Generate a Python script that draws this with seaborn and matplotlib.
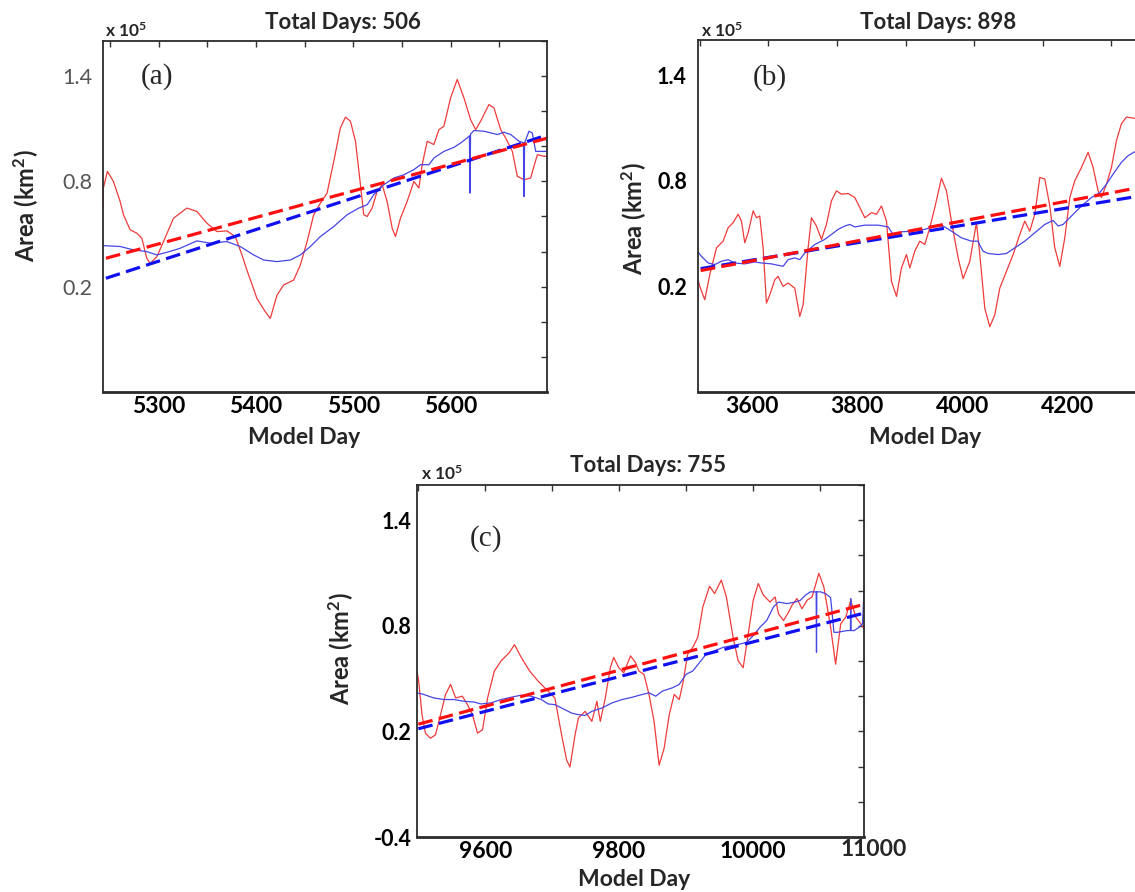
import numpy as np
import pandas as pd
import matplotlib
matplotlib.use("Agg")
import matplotlib.pyplot as plt
import seaborn as sns
from matplotlib.ticker import FixedLocator, FixedFormatter
from matplotlib.font_manager import FontProperties

sns.set_style("white")
plt.rcParams["font.family"] = ["Lato", "DejaVu Sans"]
plt.rcParams["mathtext.fontset"] = "custom"
plt.rcParams["mathtext.rm"] = "Lato:bold"
plt.rcParams["mathtext.it"] = "Lato:bold"
plt.rcParams["mathtext.bf"] = "Lato:bold"

# ---------------- data ----------------
titles = ["Total Days: 506", "Total Days: 898", "Total Days: 755"]
panel_tags = ["(a)", "(b)", "(c)"]

# panel (a)
a_red_day = [5243, 5243.4, 5247.5, 5253.7, 5260.6, 5264, 5270.9, 5277.7, 5282.9, 5288, 5291.4, 5298.3,
             5305.1, 5315.4, 5329.1, 5339.4, 5349.7, 5360, 5370.3, 5378.8, 5385.7, 5390.8, 5401.1,
             5409.7, 5414.8, 5421.7, 5428.6, 5438.8, 5445.7, 5452.6, 5459.4, 5466.3, 5473.1, 5480,
             5486.8, 5492, 5497.1, 5502.3, 5507.4, 5510.8, 5514.3, 5519.4, 5524.5, 5529.7, 5534.8,
             5540, 5543.4, 5548.5, 5555.4, 5562.3, 5567.4, 5570.8, 5576, 5582.8, 5588, 5593.1, 5600,
             5606.8, 5613.7, 5620.5, 5625.7, 5630.8, 5639.4, 5644.5, 5651.4, 5656.5, 5663.4, 5668.5,
             5675.4, 5682.2, 5685.6, 5689.1, 5695.9, 5699.4]
a_red_val = [0.648, 0.762, 0.857, 0.80, 0.686, 0.61, 0.524, 0.505, 0.476, 0.362, 0.333, 0.371,
             0.457, 0.59, 0.648, 0.629, 0.562, 0.514, 0.518, 0.486, 0.381, 0.295, 0.133,
             0.057, 0.019, 0.152, 0.21, 0.238, 0.324, 0.457, 0.61, 0.676, 0.733, 0.914,
             1.105, 1.166, 1.143, 1.029, 0.781, 0.61, 0.60, 0.648, 0.743, 0.781, 0.686,
             0.533, 0.486, 0.59, 0.686, 0.80, 0.762, 0.895, 1.029, 1.01, 1.095, 1.114, 1.276,
             1.381, 1.276, 1.152, 1.095, 1.143, 1.238, 1.219, 1.095, 1.048, 0.971, 0.829,
             0.81, 0.819, 0.886, 0.952, 0.943, 0.943]
a_blue_day = [5243, 5260.6, 5274.3, 5288, 5298.3, 5308.6, 5322.3, 5339.4, 5353.1, 5370.3, 5384,
              5397.7, 5408, 5421.7, 5435.4, 5445.7, 5456, 5466.3, 5480, 5493.7, 5505.7, 5514.3,
              5521.1, 5531.4, 5541.7, 5552, 5562.3, 5569.1, 5577.7, 5582.8, 5593.1, 5603.4,
              5610.3, 5617.1, 5619.3, 5619.9, 5620.5, 5624, 5634.2, 5648, 5654.8, 5661.7, 5670.2,
              5674.8, 5675.4, 5676.0, 5680.5, 5683.9, 5687.4, 5699.4]
a_blue_val = [0.434, 0.429, 0.41, 0.40, 0.381, 0.396, 0.419, 0.461, 0.448, 0.457, 0.429,
              0.381, 0.352, 0.343, 0.352, 0.381, 0.429, 0.486, 0.543, 0.61, 0.648, 0.667,
              0.724, 0.781, 0.819, 0.838, 0.867, 0.895, 0.895, 0.933, 0.971, 0.994,
              1.019, 1.048, 1.06, 0.733, 1.07, 1.09, 1.086, 1.067, 1.08, 1.067, 1.029,
              1.02, 0.714, 1.02, 1.086, 1.076, 0.971, 0.971]
a_trend_day = [5246, 5699]
a_trend_red = [0.362, 1.046]
a_trend_blue = [0.248, 1.064]

# panel (b)
b_red_day = [3497, 3500.4, 3509.9, 3519.4, 3532.1, 3544.7, 3554.2, 3563.7, 3573.3, 3579.6, 3585.9,
             3592.3, 3601.8, 3608.1, 3614.4, 3620.8, 3627.1, 3633.5, 3643, 3649.3, 3658.8, 3668.3,
             3681, 3690.5, 3696.8, 3706.3, 3712.7, 3722.2, 3731.7, 3741.2, 3750.7, 3760.2, 3769.7,
             3782.4, 3795.1, 3804.6, 3814.1, 3826.8, 3836.3, 3845.8, 3855.3, 3864.8, 3874.3,
             3883.8, 3893.3, 3899.6, 3909.1, 3918.6, 3928.1, 3937.7, 3947.2, 3959.8, 3969.3,
             3978.8, 3991.5, 4001, 4013.7, 4026.4, 4032.7, 4042.2, 4051.7, 4061.2, 4070.7, 4083.4,
             4096.1, 4108.7, 4118.2, 4127.7, 4137.3, 4146.8, 4156.3, 4165.8, 4175.3, 4184.8,
             4194.3, 4203.8, 4213.3, 4226, 4238.6, 4248.1, 4257.6, 4264, 4273.5, 4283, 4292.5,
             4302, 4311.5, 4327.3]
b_red_val = [0.238, 0.20, 0.124, 0.267, 0.419, 0.457, 0.533, 0.562, 0.61, 0.571, 0.448,
             0.505, 0.629, 0.59, 0.60, 0.419, 0.105, 0.152, 0.238, 0.257, 0.20, 0.219,
             0.19, 0.029, 0.095, 0.419, 0.59, 0.543, 0.467, 0.552, 0.686, 0.743, 0.724,
             0.728, 0.705, 0.648, 0.59, 0.619, 0.61, 0.657, 0.571, 0.229, 0.143,
             0.305, 0.381, 0.305, 0.40, 0.457, 0.438, 0.533, 0.648, 0.815, 0.743,
             0.571, 0.362, 0.244, 0.343, 0.562, 0.381, 0.076, -0.029, 0.038, 0.19, 0.286,
             0.381, 0.495, 0.571, 0.514, 0.61, 0.819, 0.81, 0.657, 0.419, 0.314,
             0.476, 0.705, 0.80, 0.876, 0.962, 0.876, 0.743, 0.705, 0.781, 0.876, 1.029,
             1.124, 1.162, 1.155]
b_blue_day = [3497, 3503.5, 3516.2, 3528.9, 3541.6, 3554.2, 3566.9, 3585.9, 3604.9, 3617.6, 3636.7,
              3658.8, 3668.3, 3681, 3690.5, 3700, 3719, 3738, 3750.7, 3763.4, 3776.1, 3785.6,
              3795.1, 3814.1, 3839.5, 3858.5, 3868, 3883.8, 3902.8, 3928.1, 3947.2, 3963,
              3978.8, 3997.8, 4016.9, 4029.5, 4032.7, 4039.1, 4048.6, 4067.6, 4083.4, 4099.2,
              4118.2, 4137.3, 4156.3, 4172.1, 4181.6, 4191.1, 4207, 4226, 4245, 4260.8,
              4273.5, 4286.2, 4302, 4314.7, 4327.3]
b_blue_val = [0.396, 0.371, 0.333, 0.324, 0.343, 0.352, 0.333, 0.328, 0.339, 0.333, 0.328,
              0.314, 0.352, 0.362, 0.352, 0.39, 0.438, 0.467, 0.495, 0.524, 0.543, 0.552,
              0.538, 0.548, 0.548, 0.538, 0.495, 0.51, 0.514, 0.524, 0.543, 0.543,
              0.514, 0.476, 0.457, 0.457, 0.434, 0.40, 0.387, 0.381, 0.387, 0.419,
              0.457, 0.505, 0.552, 0.575, 0.543, 0.552, 0.60, 0.657, 0.705, 0.733,
              0.781, 0.838, 0.905, 0.943, 0.965]
b_trend_day = [3502, 4327]
b_trend_red = [0.29, 0.757]
b_trend_blue = [0.301, 0.709]

# panel (c)
c_red_day = [9498, 9500.5, 9505.5, 9510.6, 9518.1, 9525.6, 9533.2, 9540.7, 9548.2, 9555.8, 9565.8,
             9573.4, 9580.9, 9588.4, 9596, 9603.5, 9613.6, 9623.6, 9636.2, 9643.7, 9653.8, 9666.3,
             9678.9, 9691.5, 9704, 9714.1, 9721.6, 9726.6, 9734.2, 9739.2, 9749.2, 9759.3, 9766.8,
             9771.9, 9779.4, 9786.9, 9792, 9799.5, 9807, 9817.1, 9824.6, 9829.6, 9837.2, 9844.7,
             9852.3, 9859.8, 9867.3, 9874.9, 9882.4, 9889.9, 9895, 9902.5, 9910.1, 9917.6, 9925.1,
             9935.2, 9942.7, 9952.8, 9960.3, 9970.4, 9977.9, 9985.4, 9993, 10000.5, 10008,
             10015.6, 10025.6, 10033.2, 10038.2, 10045.7, 10053.3, 10058.3, 10065.8, 10073.4,
             10080.9, 10088.4, 10098.5, 10106, 10116.1, 10123.6, 10131.2, 10138.7, 10146.2,
             10153.8, 10161.3, 10166.3]
c_red_val = [0.543, 0.486, 0.295, 0.19, 0.161, 0.18, 0.295, 0.41, 0.467, 0.39, 0.40,
             0.352, 0.295, 0.19, 0.21, 0.39, 0.543, 0.60, 0.649, 0.693, 0.62, 0.543,
             0.486, 0.438, 0.39, 0.18, 0.037, -0.002, 0.18, 0.276, 0.314, 0.257, 0.371,
             0.257, 0.39, 0.562, 0.62, 0.562, 0.533, 0.629, 0.591, 0.543, 0.524, 0.41,
             0.257, 0.008, 0.104, 0.295, 0.41, 0.381, 0.467, 0.639, 0.677, 0.735, 0.907,
             1.025, 0.983, 1.06, 0.964, 0.735, 0.601, 0.562, 0.754, 0.945, 1.04,
             0.974, 0.935, 0.964, 0.868, 0.83, 0.878, 0.916, 0.955, 0.897,
             0.945, 0.964, 1.098, 1.021, 0.792, 0.582, 0.811, 0.849, 0.945,
             0.849, 0.811, 0.782]
c_blue_day = [9498, 9508, 9523.1, 9538.2, 9553.3, 9568.3, 9583.4, 9593.5, 9608.5, 9623.6, 9638.7,
              9653.8, 9668.8, 9683.9, 9694, 9704, 9714.1, 9729.1, 9739.2, 9749.2, 9759.3, 9774.4,
              9789.4, 9804.5, 9819.6, 9834.7, 9844.7, 9854.8, 9864.8, 9879.9, 9889.9, 9900,
              9910.1, 9920.1, 9930.2, 9942.7, 9955.3, 9967.8, 9980.4, 9990.5, 10000.5, 10010.6,
              10020.6, 10030.7, 10038.2, 10050.8, 10063.3, 10070.9, 10078.4, 10085.9, 10093.5,
              10094.5, 10095, 10095.5, 10101, 10108.5, 10116.1, 10121.1, 10126.1, 10141.2,
              10145.7, 10146.2, 10146.7, 10151.3, 10158.8, 10163.8, 10166.3]
c_blue_val = [0.419, 0.41, 0.39, 0.381, 0.381, 0.371, 0.367, 0.356, 0.362, 0.381, 0.394,
              0.406, 0.40, 0.381, 0.356, 0.352, 0.333, 0.304, 0.295, 0.291, 0.314, 0.333,
              0.362, 0.381, 0.394, 0.41, 0.419, 0.40, 0.429, 0.448, 0.467, 0.524,
              0.543, 0.591, 0.639, 0.658, 0.677, 0.687, 0.696, 0.706, 0.744, 0.792,
              0.83, 0.907, 0.935, 0.926, 0.935, 0.945, 0.974, 0.993, 0.993,
              0.993, 0.649, 0.993, 0.993, 0.983, 0.96, 0.763, 0.763, 0.773,
              0.773, 0.954, 0.773, 0.773, 0.792, 0.811, 1.021]
c_trend_day = [9500, 10166]
c_trend_red = [0.241, 0.922]
c_trend_blue = [0.215, 0.872]

# ---------------- figure ----------------
W, H = 1135, 892
fig = plt.figure(figsize=(W / 100, H / 100), dpi=100)
fig.patch.set_facecolor("white")


def add_axes_px(l, t, r, b):
    return fig.add_axes([l / W, 1 - b / H, (r - l) / W, (b - t) / H])


def fpos(x, y):
    return x / W, 1 - y / H


RED_THIN = "#ef3b3b"
BLUE_THIN = "#4646e6"
RED_DASH = "#ff1010"
BLUE_DASH = "#1010f0"
SPINE = "#2b2b2b"
BOLD = dict(family=["Lato", "DejaVu Sans"], weight="bold")


def draw_panel(ax, rd, rv, bd, bv, td, tr, tb):
    sns.lineplot(x=rd, y=rv, ax=ax, color=RED_THIN, linewidth=0.9, estimator=None, sort=False)
    sns.lineplot(x=bd, y=bv, ax=ax, color=BLUE_THIN, linewidth=0.9, estimator=None, sort=False)
    sns.lineplot(x=td, y=tb, ax=ax, color=BLUE_DASH, linewidth=2.3, estimator=None, sort=False,
                 linestyle=(0, (4.6, 2.0)))
    sns.lineplot(x=td, y=tr, ax=ax, color=RED_DASH, linewidth=2.3, estimator=None, sort=False,
                 linestyle=(0, (4.6, 2.0)))
    ax.set_ylim(-0.4, 1.6)
    ax.set_xlabel("")
    ax.set_ylabel("")
    for s in ax.spines.values():
        s.set_visible(True)
        s.set_color(SPINE)
        s.set_linewidth(1.3)
    ax.spines["bottom"].set_linewidth(2.0)
    ax.tick_params(which="both", direction="in", top=True, right=True, length=4.5,
                   width=1.0, color="#333333")
    ax.yaxis.set_minor_locator(FixedLocator(np.arange(-0.4, 1.61, 0.2)))


def style_ticks(ax, xmaj, xlabels, xminor, ymaj, ylabels, yfp, ycolor, ypad, xmaj_len=4.5):
    ax.xaxis.set_major_locator(FixedLocator(xmaj))
    ax.xaxis.set_major_formatter(FixedFormatter(xlabels))
    ax.xaxis.set_minor_locator(FixedLocator(xminor))
    ax.yaxis.set_major_locator(FixedLocator(ymaj))
    ax.yaxis.set_major_formatter(FixedFormatter(ylabels))
    ax.tick_params(axis="x", which="major", length=xmaj_len, pad=3.0)
    ax.tick_params(axis="y", which="major", pad=ypad)
    for lab in ax.get_xticklabels():
        lab.set_fontproperties(FontProperties(family=["Lato", "DejaVu Sans"], weight="bold", size=16.5))
        lab.set_color("black")
    for lab in ax.get_yticklabels():
        lab.set_fontproperties(yfp)
        lab.set_color(ycolor)


light_fp = FontProperties(family=["Lato", "DejaVu Sans"], weight="normal", size=15.5)
bold_fp = FontProperties(family=["Lato", "DejaVu Sans"], weight="bold", size=15.5)

# ---- panel (a)
ax_a = add_axes_px(103, 41, 547, 392)
draw_panel(ax_a, a_red_day, a_red_val, a_blue_day, a_blue_val, a_trend_day, a_trend_red, a_trend_blue)
ax_a.set_xlim(5243, 5699)
style_ticks(ax_a, [5300, 5400, 5500, 5600], ["5300", "5400", "5500", "5600"],
            np.arange(5250, 5700, 50), [0.2, 0.8, 1.4], ["0.2", "0.8", "1.4"],
            light_fp, "#555555", 7.5)

# ---- panel (b)
ax_b = add_axes_px(698, 40, 1173, 392)
draw_panel(ax_b, b_red_day, b_red_val, b_blue_day, b_blue_val, b_trend_day, b_trend_red, b_trend_blue)
ax_b.set_xlim(3497, 4400)
style_ticks(ax_b, [3600, 3800, 4000, 4200], ["3600", "3800", "4000", "4200"],
            np.arange(3500, 4400, 130.5), [0.2, 0.8, 1.4], ["0.2", "0.8", "1.4"],
            bold_fp, "black", 8.0, xmaj_len=0)

# ---- panel (c)
ax_c = add_axes_px(417, 485, 864, 837)
draw_panel(ax_c, c_red_day, c_red_val, c_blue_day, c_blue_val, c_trend_day, c_trend_red, c_trend_blue)
ax_c.set_xlim(9498, 10166)
style_ticks(ax_c, [9600, 9800, 10000], ["9600", "9800", "10000"],
            np.arange(9500, 10166, 100), [-0.4, 0.2, 0.8, 1.4], ["-0.4", "0.2", "0.8", "1.4"],
            bold_fp, "black", 4.0)
ax_c.text(1.022, -0.006, "11000", transform=ax_c.transAxes, ha="center", va="top",
          fontsize=16.5, **BOLD)

# ---- texts
title_pos = [(343, 22.5), (938.6, 22.5), (648, 465)]
xlabel_pos = [(304, 437), (925, 437), (634.6, 880)]
ylabel_pos = [(26, 206), (634, 219), (341, 649)]
exp_pos = [(105, 31), (701, 31), (421, 474)]
tag_pos = [(157.5, 76.5), (770, 78), (486, 539)]

for i in range(3):
    fig.text(*fpos(*title_pos[i]), titles[i], ha="center", va="center", fontsize=16, **BOLD)
    fig.text(*fpos(*xlabel_pos[i]), "Model Day", ha="center", va="center", fontsize=16.5, **BOLD)
    fig.text(*fpos(*ylabel_pos[i]), r"Area (km$^{\mathrm{2}}$)", ha="center", va="center",
             rotation=90, fontsize=17, **BOLD)
    fig.text(*fpos(*exp_pos[i]), r"x 10$^{\mathrm{5}}$", ha="left", va="center", fontsize=12.5,
             **BOLD)
    fig.text(*fpos(*tag_pos[i]), panel_tags[i], ha="center", va="center", fontsize=21,
             family="Liberation Serif")

fig.savefig("out.png", dpi=100, facecolor="white")
